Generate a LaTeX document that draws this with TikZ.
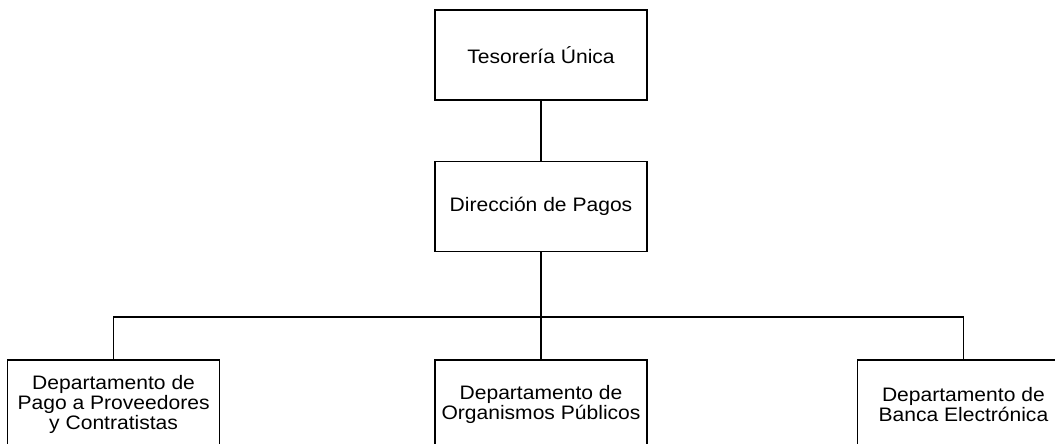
\documentclass[tikz,border=0pt]{standalone}
\usepackage{fontspec}
\setmainfont{Liberation Sans}[FakeStretch=1.08]
\usetikzlibrary{positioning}

\begin{document}
\begin{tikzpicture}[x=1pt, y=-1pt]

\tikzstyle{unit}=[draw, line width=1.4pt, minimum width=212pt, minimum height=90pt, align=center, font=\fontsize{19.5}{20}\selectfont]
\tikzstyle{line}=[draw, line width=1.4pt]

\path[use as bounding box, clip] (0,0) rectangle (1055,444);

\node[unit] (tesoreria) at (541,55) {Tesorería Única};
\node[unit, below=60pt of tesoreria] (pagos) {Dirección de Pagos};

\node[unit, below=107pt of pagos] (organismos) {Departamento de\\Organismos Públicos};
\node[unit, left=214pt of organismos] (proveedores) {Departamento de\\Pago a Proveedores\\y Contratistas};
\node[unit, right=209pt of organismos] (banca) {Departamento de\\Banca Electrónica};

\coordinate (bus) at (541,317);

\path[line] (tesoreria) -- (pagos);
\path[line] (pagos) -- (organismos);
\path[line] (proveedores) |- (bus) -| (banca);

\end{tikzpicture}
\end{document}
